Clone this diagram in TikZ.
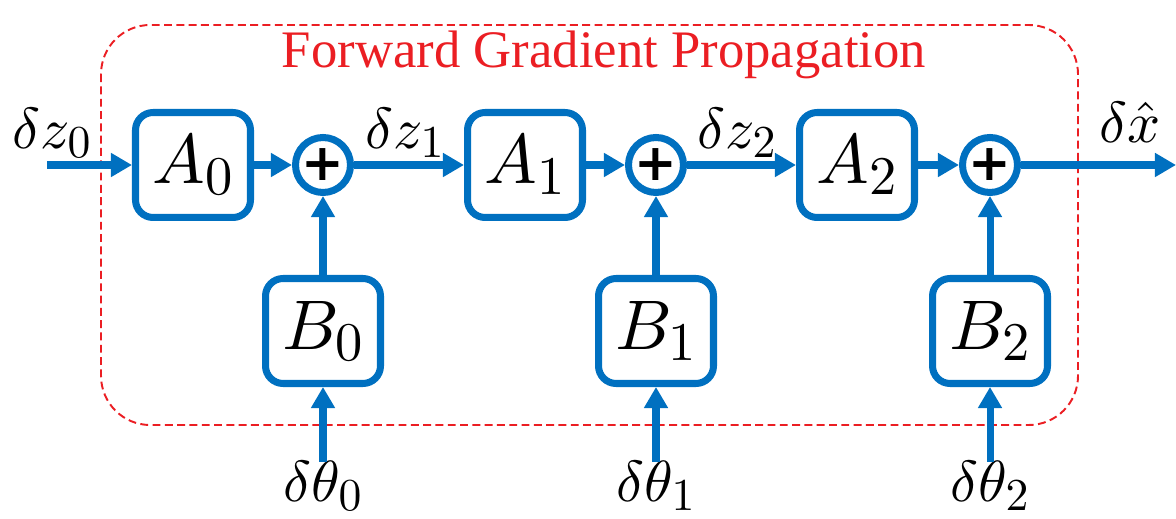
\documentclass[tikz,border=0pt]{standalone}
\usepackage{fontspec}
\usepackage{amsmath}
\usetikzlibrary{positioning,arrows.meta}
\newfontfamily\titlefont{Liberation Serif}
\newfontfamily\plusfont{DejaVu Sans}
\definecolor{flowblue}{RGB}{0,112,192}
\definecolor{fwdred}{RGB}{235,30,35}
% scalable math fonts
\DeclareFontShape{OML}{cmm}{m}{it}{<->cmmi10}{}
\DeclareFontShape{OMS}{cmsy}{m}{n}{<->cmsy10}{}
\DeclareFontShape{OT1}{cmr}{m}{n}{<->cmr10}{}
\DeclareMathSizes{40}{40}{31}{24}
\DeclareMathSizes{33}{33}{26}{20}

\begin{document}
\begin{tikzpicture}[x=0.02cm,y=-0.02cm,
  blk/.style={draw=flowblue,line width=4pt,rounded corners=10pt,minimum width=2.3cm,minimum height=2.1cm,inner sep=0pt,font=\fontsize{40}{46}\selectfont},
  sumnode/.style={draw=flowblue,line width=4pt,circle,minimum size=1.1cm,inner sep=0pt,font=\fontsize{29}{30}\selectfont\plusfont\bfseries},
  flow/.style={flowblue,line width=4pt,-{Triangle[length=12pt,width=13pt]}},
  lbl/.style={inner sep=0pt,font=\fontsize{33}{38}\selectfont}]
  \useasboundingbox (0,0) rectangle (1176,519);
  % forward region
  \draw[fwdred,line width=1.1pt,dash pattern=on 4.5pt off 2.5pt,rounded corners=28pt] (101,25) rectangle (1078,425);
  \node[fwdred,font=\titlefont\fontsize{30}{36}\selectfont] (title) at (604,55) {Forward Gradient Propagation};
  % blocks along the chain
  \foreach \i/\xa/\xs in {0/193/323,1/525/656,2/857/990}{
    \node[blk] (A\i) at (\xa,165) {$A_{\i}$};
    \node[sumnode] (s\i) at (\xs,165) {+};
    \node[blk] (B\i) at (\xs,331) {$B_{\i}$};
    \coordinate (t\i) at (\xs,462);
    \node[lbl] (th\i) at (\xs,486) {$\delta\theta_{\i}$};
    \draw[flow] (A\i) -- (s\i);
    \draw[flow] (B\i) -- (s\i);
    \draw[flow] (t\i) -- (B\i);
  }
  % inputs and outputs
  \coordinate (zin) at (47,165);
  \coordinate (xout) at (1176,165);
  \draw[flow] (zin) -- (A0);
  \draw[flow] (s0) -- (A1);
  \draw[flow] (s1) -- (A2);
  \draw[flow] (s2) -- (xout);
  \node[lbl] (z0) at (52,133) {$\delta z_0$};
  \node[lbl] (z1) at (405,133) {$\delta z_1$};
  \node[lbl] (z2) at (737,133) {$\delta z_2$};
  \node[lbl] (xh) at (1130,122) {$\delta \hat{x}$};
\end{tikzpicture}
\end{document}
